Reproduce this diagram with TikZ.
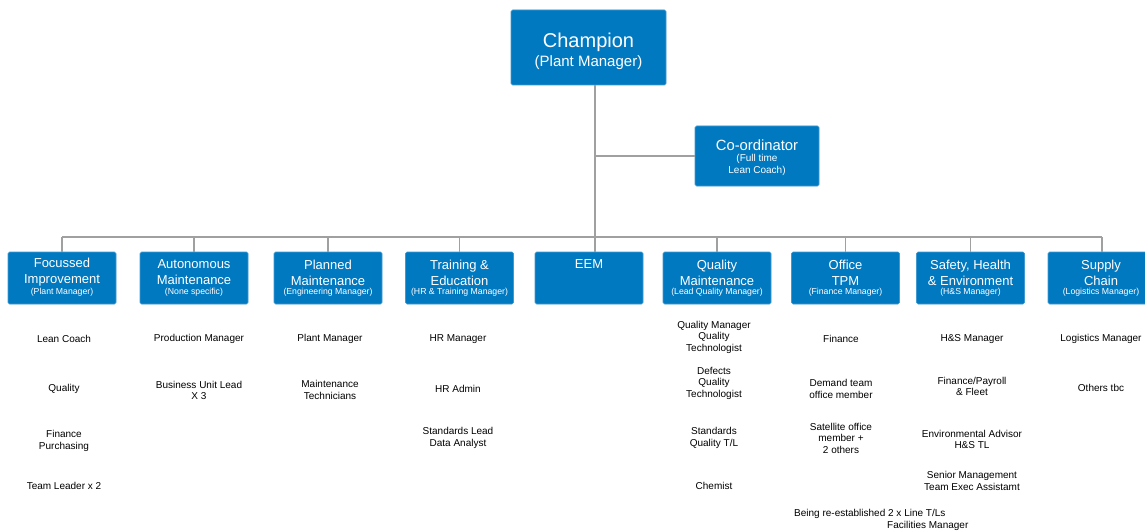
\documentclass[tikz,border=0pt]{standalone}
\usepackage{fontspec}
\setmainfont{Liberation Sans}
\definecolor{boxblue}{RGB}{0,121,193}
\definecolor{linegray}{RGB}{160,160,160}
\begin{document}
\begin{tikzpicture}[x=1pt,y=-1pt,
  box/.style={fill=boxblue, draw=boxblue!75!white, line width=0.6pt, rounded corners=1.5pt, inner sep=0pt},
  unit/.style={box, minimum width=108pt, minimum height=52pt},
  ttl/.style={text=white, align=center, inner sep=0pt, yshift=-1.5pt, font=\fontsize{13}{16}\selectfont},
  subttl/.style={text=white, align=center, inner sep=0pt, yshift=-1pt, font=\fontsize{8.7}{10}\selectfont},
  member/.style={text=black, align=center, inner sep=0pt, yshift=-1.8pt, font=\fontsize{10}{11.7}\selectfont},
  conn/.style={draw=linegray, line width=1.4pt}]
\useasboundingbox (0,0) rectangle (1145,532);

% top boxes
\node[box, minimum width=155pt, minimum height=75pt] (champ) at (588.5,47.5) {};
\node[text=white, inner sep=0pt, font=\fontsize{20}{24}\selectfont] (champt) at (588.5,42) {Champion};
\node[text=white, inner sep=0pt, font=\fontsize{15}{18}\selectfont] (champs) at (588.5,62.5) {(Plant Manager)};

\node[box, minimum width=124pt, minimum height=60pt] (co) at (757,156) {};
\node[text=white, inner sep=0pt, font=\fontsize{14.8}{18}\selectfont] (cot) at (757,145) {Co-ordinator};
\node[text=white, align=center, inner sep=0pt, font=\fontsize{10}{12}\selectfont] (cos) at (757,165) {(Full time\\Lean Coach)};

% pillar boxes
\node[unit] (fi)  at (62,278) {};
\node[unit] (am)  at (194,278) {};
\node[unit] (pm)  at (328,278) {};
\node[unit] (te)  at (459.5,278) {};
\node[unit] (eem) at (589,278) {};
\node[unit] (qm)  at (717,278) {};
\node[unit] (ot)  at (845.5,278) {};
\node[unit] (she) at (970.5,278) {};
\node[unit] (sc)  at (1102,278) {};

\node[ttl] at (62,271) {Focussed\\Improvement};
\node[subttl] at (62,291) {(Plant Manager)};
\node[ttl] at (194,271) {Autonomous\\Maintenance};
\node[subttl] at (194,291) {(None specific)};
\node[ttl] at (328,271) {Planned\\Maintenance};
\node[subttl] at (328,291) {(Engineering Manager)};
\node[ttl] at (459.5,271) {Training \&\\Education};
\node[subttl] at (459.5,291) {(HR \& Training Manager)};
\node[ttl] at (589,263) {EEM};
\node[ttl] at (717,271) {Quality\\Maintenance};
\node[subttl] at (717,291) {(Lead Quality Manager)};
\node[ttl] at (845.5,271) {Office\\TPM};
\node[subttl] at (845.5,291) {(Finance Manager)};
\node[ttl] at (970.5,271) {Safety, Health\\\& Environment};
\node[subttl] at (970.5,291) {(H\&S Manager)};
\node[ttl] at (1101,271) {Supply\\Chain};
\node[subttl] at (1101,291) {(Logistics Manager)};

% connectors
\coordinate (j) at (595,237);
\draw[conn] (champ.south -| j) -- (eem.north -| j);
\draw[conn] (co.west -| j) -- (co.west);
\draw[conn] (fi.north |- j) -- (sc.north |- j);
\foreach \b in {fi,am,pm,te,qm,ot,she,sc}
  \draw[conn] (\b.north |- j) -- (\b.north);

% members
\node[member] at (64,337) {Lean Coach};
\node[member] at (64,387) {Quality};
\node[member] at (64,439) {Finance\\Purchasing};
\node[member] at (64,484) {Team Leader x 2};

\node[member] at (199,337) {Production Manager};
\node[member] at (199,388.5) {Business Unit Lead\\X 3};

\node[member] at (330,337) {Plant Manager};
\node[member] at (330,388) {Maintenance\\Technicians};

\node[member] at (458,337) {HR Manager};
\node[member] at (458,387) {HR Admin};
\node[member] at (458,436) {Standards Lead\\Data Analyst};

\node[member] at (714,335.5) {Quality Manager\\Quality\\Technologist};
\node[member] at (714,381.5) {Defects\\Quality\\Technologist};
\node[member] at (714,436) {Standards\\Quality T/L};
\node[member] at (714,484) {Chemist};

\node[member] at (841,337) {Finance};
\node[member] at (841,387) {Demand team\\office member};
\node[member] at (841,436.5) {Satellite office\\member +\\2 others};

\node[member] at (972,337) {H\&S Manager};
\node[member] at (972,384.5) {Finance/Payroll\\\& Fleet};
\node[member] at (972,437.5) {Environmental Advisor\\H\&S TL};
\node[member] at (972,479) {Senior Management\\Team Exec Assistamt};

\node[member, align=left, anchor=west] at (794,518) {Being re-established 2 x Line T/Ls\\\hspace*{93pt}Facilities Manager};

\node[member] at (1101,337) {Logistics Manager};
\node[member] at (1101,386) {Others tbc};
\end{tikzpicture}
\end{document}
